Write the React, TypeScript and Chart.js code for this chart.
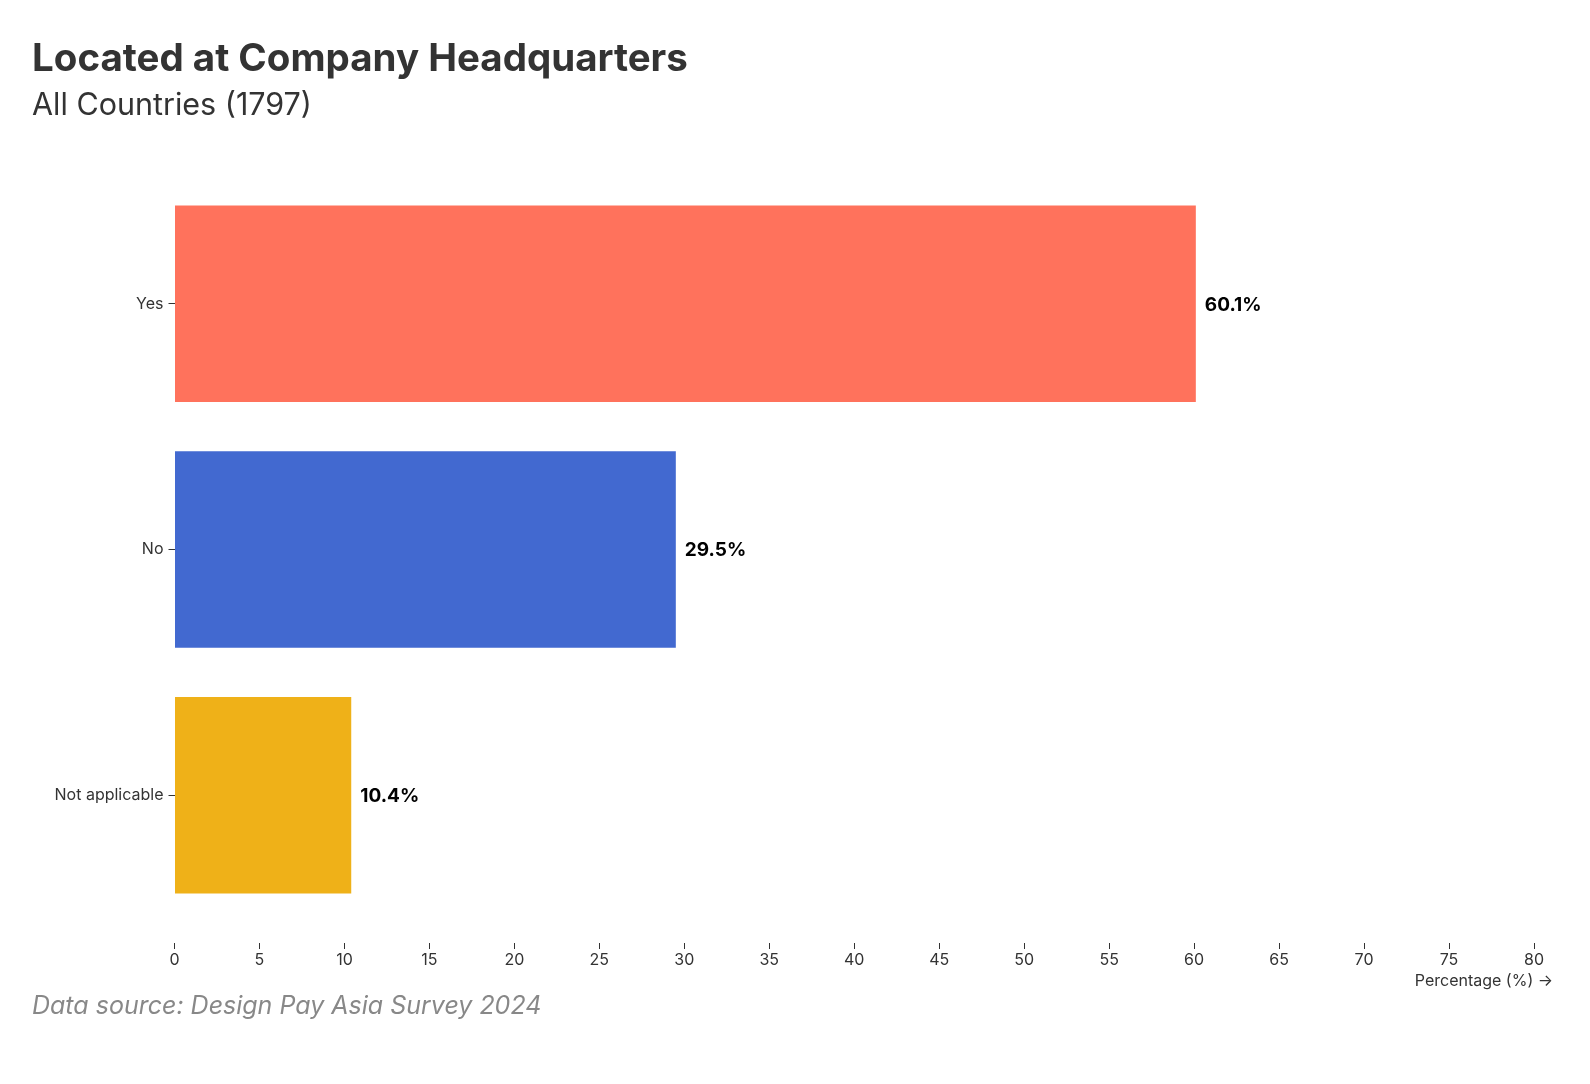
import { useEffect, useRef } from "react";
import { Chart, registerables } from "chart.js";

Chart.register(...registerables);

const categories = ["Yes", "No", "Not applicable"];
const values = [60.1, 29.5, 10.4];
const barColors = ["#ff725c", "#4269d0", "#efb118"];
const xMin = 0;
const xMax = 80;
const xStep = 5;
const titleText = "Located at Company Headquarters";
const subtitleText = "All Countries (1797)";
const sourceText = "Data source: Design Pay Asia Survey 2024";
const xAxisLabel = "Percentage (%) →";

const FONT = "Inter, 'Noto Sans', sans-serif";

const valueLabels = {
  id: "valueLabels",
  afterDatasetsDraw(chart: any) {
    const ctx = chart.ctx as CanvasRenderingContext2D;
    const meta = chart.getDatasetMeta(0);
    ctx.save();
    ctx.font = `bold 19px ${FONT}`;
    ctx.fillStyle = "#000";
    ctx.textBaseline = "middle";
    ctx.textAlign = "left";
    meta.data.forEach((bar: any, i: number) => {
      ctx.fillText(values[i].toFixed(1) + "%", bar.x + 9, bar.y + 1);
    });
    const xs = chart.scales.x;
    ctx.font = `16px ${FONT}`;
    ctx.fillStyle = "#333";
    ctx.textAlign = "right";
    ctx.fillText(xAxisLabel, xs.right + 19, xs.top + 63);
    ctx.restore();
  },
};

export default function App() {
  const canvasRef = useRef<HTMLCanvasElement | null>(null);

  useEffect(() => {
    if (!canvasRef.current) return;
    const chart = new Chart(canvasRef.current, {
      type: "bar",
      data: {
        labels: categories,
        datasets: [
          {
            data: values,
            backgroundColor: barColors,
            borderWidth: 0,
            categoryPercentage: 0.8,
            barPercentage: 1,
          },
        ],
      },
      options: {
        indexAxis: "y",
        animation: false,
        responsive: false,
        devicePixelRatio: 1,
        layout: {
          padding: { top: 181, left: 0, right: 56, bottom: 106 },
        },
        plugins: {
          legend: { display: false },
          title: { display: false },
          tooltip: { enabled: false },
        },
        scales: {
          x: {
            type: "linear",
            position: "bottom",
            min: xMin,
            max: xMax,
            border: { display: false },
            grid: {
              drawOnChartArea: false,
              drawTicks: true,
              tickLength: 31,
              tickColor: "#333",
              tickWidth: 1,
              tickBorderDash: [6, 25],
              tickBorderDashOffset: 6,
            },
            ticks: {
              stepSize: xStep,
              padding: 2,
              color: "#333",
              font: { family: FONT, size: 16 },
              maxRotation: 0,
              autoSkip: false,
            },
            afterFit: (scale: any) => {
              scale.height = 60;
            },
          },
          y: {
            type: "category",
            position: "left",
            border: { display: false },
            grid: {
              offset: false,
              drawOnChartArea: false,
              drawTicks: true,
              tickLength: 6,
              tickColor: "#333",
              tickWidth: 1,
            },
            ticks: {
              padding: 5,
              color: "#333",
              font: { family: FONT, size: 16 },
            },
            afterFit: (scale: any) => {
              scale.width = 174.5;
            },
          },
        },
      },
      plugins: [valueLabels],
    });
    return () => chart.destroy();
  }, []);

  return (
    <div
      style={{
        position: "absolute",
        left: 0,
        top: 0,
        width: 1590,
        height: 1084,
        background: "#fff",
        fontFamily: FONT,
      }}
    >
      <canvas
        ref={canvasRef}
        width={1590}
        height={1084}
        style={{ position: "absolute", left: 0, top: 0, width: 1590, height: 1084 }}
      />
      <div
        style={{
          position: "absolute",
          left: 32,
          top: 38,
          fontSize: 38.5,
          lineHeight: "38px",
          fontWeight: 700,
          color: "#333",
          whiteSpace: "nowrap",
        }}
      >
        {titleText}
      </div>
      <div
        style={{
          position: "absolute",
          left: 32,
          top: 89,
          fontSize: 30.5,
          lineHeight: "30px",
          fontWeight: 400,
          color: "#333",
          whiteSpace: "nowrap",
        }}
      >
        {subtitleText}
      </div>
      <div
        style={{
          position: "absolute",
          left: 32,
          top: 992,
          fontSize: 25,
          lineHeight: "26px",
          fontStyle: "italic",
          color: "#888",
          whiteSpace: "nowrap",
        }}
      >
        {sourceText}
      </div>
    </div>
  );
}
